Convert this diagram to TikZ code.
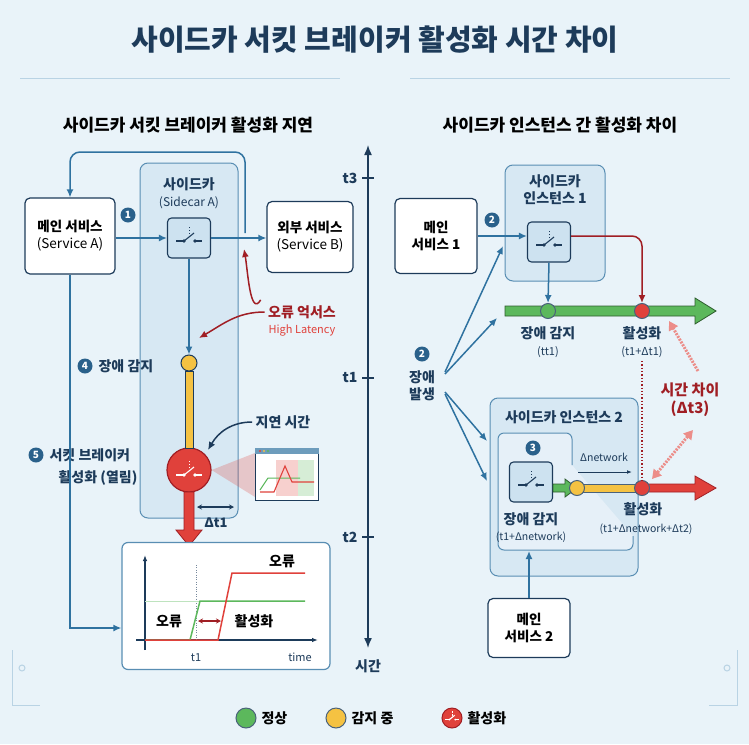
\documentclass[tikz,border=0pt]{standalone}
\usepackage{fontspec}
\setmainfont{Noto Sans CJK KR}
\usetikzlibrary{arrows.meta,positioning,calc}
\definecolor{navy}{HTML}{1D3B5A}
\definecolor{flowblue}{HTML}{2F72A0}
\definecolor{boxfill}{HTML}{CDE2F0}
\definecolor{bgblue}{HTML}{E9F3F9}
\definecolor{okgreen}{HTML}{5CB85C}
\definecolor{detyellow}{HTML}{F5C242}
\definecolor{actred}{HTML}{E0413B}
\definecolor{darkred}{HTML}{A01E24}
\definecolor{decoline}{HTML}{B9D3E4}

% switch glyph: x, y, colour
\newcommand{\switchglyph}[3]{%
  \draw[#3,line width=1.1] (#1-13,#2+3) -- (#1-5,#2+3);
  \fill[#3] (#1-5,#2+3) circle (1.8);
  \draw[#3,line width=1.1] (#1-5,#2+3) -- (#1+5,#2-5);
  \fill[#3] (#1+6,#2+3) circle (1.8);
  \draw[#3,line width=1.1] (#1+6,#2+3) -- (#1+13,#2+3);
  \draw[#3,dash pattern=on 1.5pt off 1.5pt] (#1,#2-4) -- (#1,#2-12);}

\begin{document}
\begin{tikzpicture}[x=1pt,y=-1pt,
  svc/.style={draw=navy,line width=1.2,fill=white,rounded corners=5,align=center,font=\fontsize{13.5}{17}\selectfont\bfseries,inner sep=2},
  sbox/.style={draw=navy,line width=1.1,fill=boxfill,rounded corners=4,minimum width=43,minimum height=40,inner sep=0},
  cont/.style={draw=flowblue!80,line width=1,fill=boxfill!80,rounded corners=8},
  badge/.style={circle,fill=flowblue!70!navy,text=white,inner sep=0,minimum size=15,font=\fontsize{10}{10}\selectfont\bfseries},
  lbl/.style={font=\fontsize{14}{17}\selectfont\bfseries,text=navy,align=center},
  sml/.style={font=\fontsize{11}{13}\selectfont,text=navy,align=center},
  flow/.style={draw=flowblue,line width=1.5,-{Latex[length=8pt,width=7pt]}},
  errarr/.style={draw=darkred,line width=1.5,-{Latex[length=8pt,width=7pt]}},
  twohead/.style={line width=1.1,{Stealth[length=5pt,width=5pt]}-{Stealth[length=5pt,width=5pt]}},
  dot/.style={circle,draw=navy!80,line width=1,minimum size=15,inner sep=0},
  deco/.style={draw=decoline,line width=1}]
\useasboundingbox (0,0) rectangle (749,744);
\fill[bgblue] (0,0) rectangle (749,744);

% decoration
\draw[deco] (20,78) -- (340,78); \draw[deco] (410,78) -- (730,78);
\draw[deco] (12,650) -- (12,705) -- (40,705); \draw[deco] (22,668) circle (3);
\draw[deco] (737,650) -- (737,705) -- (709,705); \draw[deco] (727,668) circle (3);

% titles
\node[font=\fontsize{29}{32}\selectfont\bfseries,text=navy] (title) at (375,40) {사이드카 서킷 브레이커 활성화 시간 차이};
\node[font=\fontsize{17}{19}\selectfont\bfseries,text=black] (subL) at (188,125) {사이드카 서킷 브레이커 활성화 지연};
\node[font=\fontsize{17}{19}\selectfont\bfseries,text=black] (subR) at (560,125) {사이드카 인스턴스 간 활성화 차이};

%% left panel
\draw[cont] (140,163) rectangle (238,518);
\node[svc,minimum width=90,minimum height=76] (mainA) at (70,236) {메인 서비스\\{\mdseries(Service A)}};
\node[svc,minimum width=86,minimum height=71] (extB) at (310,237) {외부 서비스\\{\mdseries(Service B)}};
\node[lbl] (sideA) at (189,193) {사이드카\\{\mdseries\fontsize{12}{14}\selectfont(Sidecar A)}};
\node[sbox] (swA) at (189,238) {};
\switchglyph{189}{238}{navy}
\node[badge] (b1) at (128,215) {1};
\coordinate (loopR) at (245,233);
\coordinate (loopTop) at (70,152);
\draw[flow,rounded corners=10] (loopR) |- (loopTop) -- (mainA.north);
\draw[flow] (mainA.east |- swA) -- (swA.west);
\draw[flow] (swA.east) -- (extB.west |- swA);

\node[font=\fontsize{14}{16}\selectfont\bfseries,text=darkred] (err) at (302,312) {오류 억서스};
\node[font=\fontsize{11}{13}\selectfont,text=actred] (lat) at (302,330) {High Latency};
\coordinate (errUp) at (244,249);
\coordinate (errIn) at (199,338);
\draw[errarr] (err.north west) ++(-4,-2) coordinate (e1) to[out=-120,in=-80] (errUp);
\draw[errarr] (err.west) to[out=180,in=30] (errIn);

\node[circle,draw=navy,line width=1,fill=detyellow,minimum size=16,inner sep=0] (detA) at (189,363) {};
\draw[flow] (swA.south) -- (detA.north);
\node[badge] (b4) at (85,366) {4};
\node[lbl,anchor=west] (detAl) at (95,366) {장애 감지};
\node[circle,draw=darkred,line width=1.2,fill=actred,minimum size=44,inner sep=0] (brk) at (189,470) {};
\fill[draw=navy,line width=1,fill=detyellow] (185,371) rectangle (193,448);
\switchglyph{189}{472}{white}
\node[badge] (b5) at (36,455) {5};
\node[lbl,anchor=west] (brkl1) at (46,455) {서킷 브레이커};
\node[lbl] (brkl2) at (98,478) {활성화 (열림)};

\node[lbl] (delay) at (283,422) {지연 시간};
\coordinate (delayIn) at (208,450);
\draw[draw=navy,line width=1.5,-{Latex[length=8pt,width=7pt]}] (delay.west) to[out=180,in=60] (delayIn);

% cone and mini chart
\fill[actred,opacity=0.25] (brk.east) -- (255,453) -- (255,497) -- cycle;
\node[draw=navy,line width=1,fill=white,minimum width=63,minimum height=52,inner sep=0] (win) at (286.5,474) {};
\fill[flowblue!70] (win.north west) rectangle ($(win.north east)+(0,6)$);
\fill[actred] (260,451) circle (1.2); \fill[detyellow] (264,451) circle (1.2); \fill[okgreen] (268,451) circle (1.2);
\fill[actred!25] (276,460) rectangle (298,496);
\fill[okgreen!25] (298,460) rectangle (314,496);
\draw[okgreen,line width=1] (260,490) -- (268,478) -- (300,478);
\draw[actred,line width=1.1] (260,492) -- (274,492) -- (285,466) -- (292,482) -- (314,482);

\draw[draw=darkred,fill=actred,line width=0.8] (184,492) -- (184,530) -- (176,530) -- (189,546) -- (202,530) -- (194,530) -- (194,492) -- cycle;
\coordinate (dtL) at (197,507); \coordinate (dtR) at (234,507);
\draw[twohead,navy] (dtL) -- (dtR);
\node[lbl,font=\fontsize{13}{15}\selectfont\bfseries] (dt1) at (216,523) {Δt1};

% chart
\node[draw=flowblue!80,line width=1.2,fill=white,rounded corners=6,minimum width=208,minimum height=127] (chart) at (226,606) {};
\coordinate (chartIn) at (chart.west |- 0,628);
\draw[flow] (mainA.south) |- (chartIn);
\draw[navy,line width=1.3,-{Latex[length=6pt]}] (145,650) -- (145,555);
\draw[navy,line width=1.3,-{Latex[length=6pt]}] (136,640) -- (318,640);
\draw[navy!60,dotted] (196,565) -- (196,640);
\draw[okgreen!40,line width=1] (145,601) -- (200,601);
\draw[okgreen,line width=1.5] (145,640) -- (190,640) -- (200,601) -- (305,601);
\draw[actred,line width=1.5] (145,640) -- (218,640) -- (232,573) -- (305,573);
\node[sml] (t1c) at (196,658) {t1};
\node[sml] (timec) at (300,657) {time};
\node[lbl,text=black] (errTop) at (282,561) {오류};
\node[lbl,text=black] (errLow) at (169,621) {오류};
\draw[twohead,darkred] (198,621) -- (221,621);
\node[lbl,text=black] (actc) at (254,621) {활성화};

%% central time axis
\draw[navy,line width=1.5,{Latex[length=10pt,width=8pt]}-{Latex[length=10pt,width=8pt]}] (368,145) -- (368,648);
\foreach \ty/\tn in {178/t3,378/t1,537/t2}{
  \draw[navy,line width=1.2] (362,\ty) -- (374,\ty);
  \node[lbl,anchor=east] (tick\tn) at (361,\ty) {\tn};}
\node[lbl] (timeAx) at (368,666) {시간};

%% right panel
\draw[cont] (505,165) rectangle (605,281);
\node[svc,minimum width=82,minimum height=75] (main1) at (436,236) {메인\\서비스 1};
\node[lbl] (side1) at (555,190) {사이드카\\인스턴스 1};
\node[sbox] (sw1) at (549,242) {};
\switchglyph{549}{242}{navy}
\node[badge] (b2a) at (492,220) {2};
\draw[flow] (main1.east |- 0,236) -- (sw1.west |- 0,236);

% timeline 1
\draw[draw=okgreen!50!black,fill=okgreen,line width=0.8] (505,306) -- (695,306) -- (695,298) -- (716,311) -- (695,324) -- (695,316) -- (505,316) -- cycle;
\node[dot,fill=okgreen] (det1) at (548,311) {};
\node[dot,fill=actred] (act1) at (642,311) {};
\draw[flow] (sw1.south) -- (det1.north);
\draw[errarr,rounded corners=10] (sw1.east |- 0,236) -| (act1.north);
\node[lbl] (det1l) at (548,333) {장애 감지};
\node[sml] (det1t) at (548,352) {(tt1)};
\node[lbl] (act1l) at (642,333) {활성화};
\node[sml] (act1t) at (642,352) {(t1+Δt1)};

% fault source
\node[badge] (b2b) at (422,354) {2};
\node[lbl] (fault) at (422,386) {장애\\발생};
\coordinate (fa1) at (503,246); \coordinate (fa2) at (497,318);
\coordinate (fa3) at (487,441); \coordinate (fa4) at (487,481);
\draw[flow] (445,372) -- (fa1);
\draw[flow] (445,374) -- (fa2);
\draw[flow] (445,392) -- (fa3);
\draw[flow] (445,394) -- (fa4);

% sidecar 2
\draw[cont] (490,398) rectangle (638,576);
\node[lbl] (side2) at (564,417) {사이드카 인스턴스 2};
\draw[draw=flowblue!80,line width=1,fill=boxfill!50,rounded corners=6] (572,465) -- (572,433) -- (498,433) -- (498,550) -- (633,550) -- (633,536);
\node[badge] (b3) at (533,448) {3};
\node[sbox] (sw2) at (531,482) {};
\switchglyph{531}{482}{navy}
\draw[draw=okgreen!50!black,fill=okgreen,line width=0.8] (553,484) -- (565,484) -- (565,479) -- (577,488) -- (565,497) -- (565,492) -- (553,492) -- cycle;
\fill[draw=navy!80,line width=0.8,fill=detyellow] (577,484) rectangle (642,492);
\draw[draw=darkred,fill=actred,line width=0.8] (642,484) -- (695,484) -- (695,476) -- (716,488) -- (695,500) -- (695,492) -- (642,492) -- cycle;
\node[dot,fill=detyellow] (det2) at (577,488) {};
\node[dot,fill=actred] (act2) at (642,488) {};
\draw[darkred,dotted,line width=1.3] (act1t.south) -- (act2.north);
\node[sml,font=\fontsize{10.5}{12}\selectfont] (dnet) at (604,457) {Δnetwork};
\draw[navy,line width=1,-{Latex[length=5pt]}] (578,472) -- (632,472);
\node[lbl] (det2l) at (531,519) {장애 감지};
\node[sml,font=\fontsize{10.5}{12}\selectfont] (det2t) at (531,537) {(t1+Δnetwork)};
\node[lbl] (act2l) at (643,509) {활성화};
\node[sml,font=\fontsize{10.5}{12}\selectfont] (act2t) at (646,529) {(t1+Δnetwork+Δt2)};

% time gap
\node[font=\fontsize{15}{18}\selectfont\bfseries,text=darkred,align=center] (gap) at (690,400) {시간 차이\\(Δt3)};
\coordinate (gapUp) at (669,321); \coordinate (gapDn) at (652,479);
\draw[actred!60,line width=3,dash pattern=on 2pt off 1.2pt,-{Triangle[length=9pt,width=10pt]}] (698,371) -- (gapUp);
\draw[actred!60,line width=3,dash pattern=on 2pt off 1.2pt,{Triangle[length=9pt,width=10pt]}-{Triangle[length=9pt,width=10pt]}] (693,430) -- (gapDn);

\node[svc,minimum width=82,minimum height=59] (main2) at (529,628) {메인\\서비스 2};
\draw[flow] (main2.north) -- (529,551);

%% legend
\node[dot,fill=okgreen,minimum size=20] (lgOk) at (246,718) {};
\node[lbl,text=black,anchor=west] (lgOkT) at (258,718) {정상};
\node[dot,fill=detyellow,minimum size=20] (lgDet) at (336,718) {};
\node[lbl,text=black,anchor=west] (lgDetT) at (348,718) {감지 중};
\node[dot,fill=actred,draw=darkred,minimum size=20] (lgAct) at (452,718) {};
\begin{scope}[shift={(452,718)},scale=0.55]
\switchglyph{0}{0}{white}
\end{scope}
\node[lbl,text=black,anchor=west] (lgActT) at (464,718) {활성화};
\end{tikzpicture}
\end{document}
